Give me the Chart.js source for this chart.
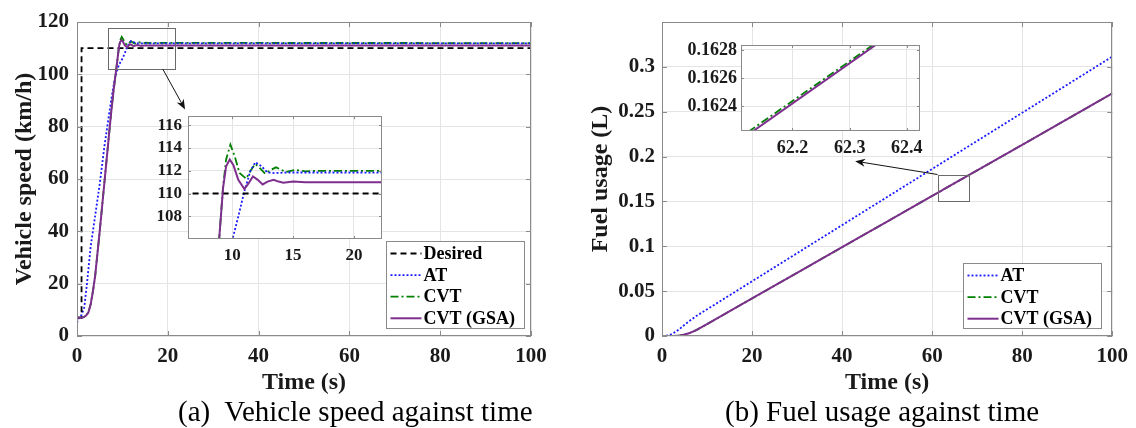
<!DOCTYPE html>
<html>
<head>
<meta charset="utf-8">
<script src="https://cdn.jsdelivr.net/npm/chart.js@4.4.0/dist/chart.umd.min.js"></script>
<style>
  body { margin: 0; background: #fff; width: 1136px; height: 428px; overflow: hidden; position: relative; }
  canvas { position: absolute; }
  .cap { position: absolute; font-family: 'Liberation Serif', 'Times New Roman', serif; font-size: 29px;
         line-height: 1; white-space: pre; color: #000; }
</style>
</head>
<body>
<canvas id="speedChart" width="560" height="400" style="left:0px;top:0px"></canvas>
<canvas id="speedZoom" width="252" height="170" style="left:140px;top:100px"></canvas>
<canvas id="fuelChart" width="566" height="400" style="left:570px;top:0px"></canvas>
<canvas id="fuelZoom" width="280" height="135" style="left:660px;top:30px"></canvas>
<div class="cap" style="left:178px;top:397px">(a)  Vehicle speed against time</div>
<div class="cap" style="left:725px;top:397px">(b) Fuel usage against time</div>

<script>
// ---- (a) vehicle speed ----
var desiredTime  = [0, 1, 1, 100];
var desiredSpeed = [7, 7, 110, 110];

var atTime  = [0, 0.4, 1, 1.6, 2.2, 3, 4, 5, 6, 7, 7.6, 8.4, 9.2, 10.1, 10.55, 11, 11.5, 11.9, 12.4, 12.9, 13.5, 14.5, 100];
var atSpeed = [5, 7, 8, 11, 20, 34, 46, 58, 72, 84, 91, 99, 103.5, 106.3, 108.2, 110.2, 112, 112.75, 112.4, 111.85, 111.8, 111.85, 111.8];

var cvtTime  = [0, 1, 1.5, 2, 2.5, 3, 3.5, 4, 5, 6, 7, 7.5, 8, 8.5, 8.93, 9.25, 9.5, 9.85, 10.2, 10.6, 11.15, 11.5, 11.9, 12.3, 12.7, 13.2, 13.6, 14, 14.4, 15.2, 16, 17, 100];
var cvtSpeed = [7, 7, 7.2, 7.8, 9, 12, 17, 23, 40, 58, 76, 85, 93, 100, 106, 110.6, 113, 114.3, 113.3, 111.8, 111.3, 112, 112.6, 112.2, 111.75, 112.1, 112.3, 112.1, 111.9, 112.08, 111.95, 112, 111.95];

var gsaTime  = [0, 1, 1.5, 2, 2.5, 3, 3.5, 4, 5, 6, 7, 7.5, 8, 8.5, 8.93, 9.25, 9.5, 9.8, 10.1, 10.5, 11, 11.35, 11.7, 12.1, 12.5, 12.9, 13.4, 13.8, 14.2, 15, 16, 100];
var gsaSpeed = [7, 7, 7.2, 7.8, 9, 12, 17, 23, 40, 58, 76, 85, 93, 100, 106, 110.5, 112.4, 113, 112.5, 111.2, 110.4, 110.9, 111.5, 111.2, 110.8, 111.05, 111.2, 111.05, 110.95, 111.05, 111, 111];

var timeTicks      = [0, 20, 40, 60, 80, 100];
var speedTicks     = [0, 20, 40, 60, 80, 100, 120];
var zoomTimeTicks  = [10, 15, 20];
var zoomSpeedTicks = [108, 110, 112, 114, 116];

// ---- (b) fuel usage ----
var fuelTime = [0, 1, 2, 3, 4, 5, 6, 7, 7.6, 8, 9, 10, 20, 30, 40, 50, 60, 62.1, 62.43, 70, 80, 90, 100];
var fuelAT   = [0, 0.0004, 0.0018, 0.0045, 0.0082, 0.0125, 0.0165, 0.0200, 0.0222, 0.0235, 0.0266, 0.0297,
                0.0610, 0.0923, 0.1236, 0.1549, 0.1862, 0.1928, 0.1938, 0.2175, 0.2488, 0.2801, 0.3114];
var fuelCVT  = [0, 0, 0.0001, 0.0002, 0.0006, 0.0016, 0.0031, 0.0051, 0.0066, 0.0077, 0.0104, 0.01325,
                0.04183, 0.07041, 0.09899, 0.12757, 0.15615, 0.162154, 0.163088, 0.18459, 0.21317, 0.24175, 0.27033];
var fuelGSA  = [0, 0, 0.0001, 0.0002, 0.0006, 0.0016, 0.0031, 0.0051, 0.0066, 0.0077, 0.0104, 0.01323,
                0.04181, 0.07039, 0.09897, 0.12755, 0.15613, 0.162134, 0.163077, 0.18457, 0.21315, 0.24173, 0.27031];

var fuelTicks         = [0, 0.05, 0.1, 0.15, 0.2, 0.25, 0.3];
var zoomFuelTimeTicks = [62.2, 62.3, 62.4];
var zoomFuelTicks     = [0.1624, 0.1626, 0.1628];

var FONT = "'Liberation Serif', 'Times New Roman', serif";
var AXIS = '#8a8a8a';
var GRID = '#e4e4e4';
var TEXT = '#1a1a1a';

function pts(xs, ys) {
  return xs.map(function (x, i) { return {x: x, y: ys[i]}; });
}

function line(label, xs, ys, color, dash, width, order) {
  return {
    label: label, data: pts(xs, ys), borderColor: color, borderDash: dash, borderWidth: width,
    order: order, pointRadius: 0, tension: 0, fill: false
  };
}

function speedSets() {
  return [
    line('Desired', desiredTime, desiredSpeed, '#000000', [6, 4], 1.8, 1),
    line('AT', atTime, atSpeed, '#1a1aff', [2, 2], 1.8, 1),
    line('CVT', cvtTime, cvtSpeed, '#008000', [8, 3, 2, 3], 1.8, 1),
    line('CVT (GSA)', gsaTime, gsaSpeed, '#7e2f8e', [], 2, 0)
  ];
}

function fuelSets() {
  return [
    line('AT', fuelTime, fuelAT, '#1a1aff', [2, 2], 1.8, 1),
    line('CVT', fuelTime, fuelCVT, '#008000', [8, 3, 2, 3], 1.8, 1),
    line('CVT (GSA)', fuelTime, fuelGSA, '#7e2f8e', [], 2, 0)
  ];
}

function makeScale(o) {
  return {
    type: 'linear',
    position: o.isX ? 'bottom' : 'left',
    min: o.min, max: o.max,
    afterBuildTicks: function (s) { s.ticks = o.ticks.map(function (v) { return {value: v}; }); },
    afterFit: function (s) { if (o.isX) s.height = o.size; else s.width = o.size; },
    grid: {color: GRID, lineWidth: 1, drawTicks: false},
    border: {display: false},
    ticks: {
      padding: o.pad, autoSkip: false, maxRotation: 0, minRotation: 0, color: TEXT,
      font: {family: FONT, size: o.font, weight: 'bold'},
      callback: function (v) { return String(v); }
    },
    title: o.title ? {
      display: true, text: o.title, color: TEXT,
      font: {family: FONT, size: 24, weight: 'bold', lineHeight: 1.2},
      padding: o.titlePad
    } : {display: false}
  };
}

// axes box, inner tick marks, optional white fill for insets
var framePlugin = {
  id: 'frame',
  beforeDraw: function (chart, args, o) {
    if (!o.fill) return;
    var a = chart.chartArea, ctx = chart.ctx;
    ctx.save();
    ctx.fillStyle = '#ffffff';
    ctx.fillRect(a.left, a.top, a.right - a.left, a.bottom - a.top);
    ctx.restore();
  },
  afterDatasetsDraw: function (chart, args, o) {
    var a = chart.chartArea, ctx = chart.ctx, sx = chart.scales.x, sy = chart.scales.y;
    var L = o.tick || 5;
    ctx.save();
    ctx.strokeStyle = AXIS;
    ctx.lineWidth = 1;
    ctx.beginPath();
    sx.ticks.forEach(function (t) {
      var p = Math.round(sx.getPixelForValue(t.value)) + 0.5;
      ctx.moveTo(p, a.bottom); ctx.lineTo(p, a.bottom - L);
      ctx.moveTo(p, a.top); ctx.lineTo(p, a.top + L);
    });
    sy.ticks.forEach(function (t) {
      var p = Math.round(sy.getPixelForValue(t.value)) + 0.5;
      ctx.moveTo(a.left, p); ctx.lineTo(a.left + L, p);
      ctx.moveTo(a.right, p); ctx.lineTo(a.right - L, p);
    });
    ctx.stroke();
    ctx.strokeRect(Math.round(a.left) + 0.5, Math.round(a.top) + 0.5,
                   Math.round(a.right - a.left) - 1, Math.round(a.bottom - a.top) - 1);
    ctx.restore();
  }
};

// zoom rectangle, arrow and MATLAB-style legend
var extrasPlugin = {
  id: 'extras',
  afterDatasetsDraw: function (chart, args, o) {
    var ctx = chart.ctx, sx = chart.scales.x, sy = chart.scales.y, a = chart.chartArea;
    ctx.save();
    if (o.zoomBox) {
      var b = o.zoomBox;
      var x0 = Math.round(sx.getPixelForValue(b.x[0])) + 0.5, x1 = Math.round(sx.getPixelForValue(b.x[1])) + 0.5;
      var y0 = Math.round(sy.getPixelForValue(b.y[0])) + 0.5, y1 = Math.round(sy.getPixelForValue(b.y[1])) + 0.5;
      ctx.strokeStyle = '#6a6a6a';
      ctx.lineWidth = 1;
      ctx.setLineDash([]);
      ctx.strokeRect(x0, y1, x1 - x0, y0 - y1);
    }
    if (o.arrow) {
      var px0 = sx.getPixelForValue(o.arrow.from[0]), py0 = sy.getPixelForValue(o.arrow.from[1]);
      var px1 = sx.getPixelForValue(o.arrow.to[0]), py1 = sy.getPixelForValue(o.arrow.to[1]);
      var ang = Math.atan2(py1 - py0, px1 - px0);
      ctx.strokeStyle = '#111';
      ctx.fillStyle = '#111';
      ctx.lineWidth = 1;
      ctx.beginPath();
      ctx.moveTo(px0, py0);
      ctx.lineTo(px1 - 6 * Math.cos(ang), py1 - 6 * Math.sin(ang));
      ctx.stroke();
      ctx.beginPath();
      ctx.moveTo(px1, py1);
      ctx.lineTo(px1 - 10 * Math.cos(ang) + 4 * Math.sin(ang), py1 - 10 * Math.sin(ang) - 4 * Math.cos(ang));
      ctx.lineTo(px1 - 7 * Math.cos(ang), py1 - 7 * Math.sin(ang));
      ctx.lineTo(px1 - 10 * Math.cos(ang) - 4 * Math.sin(ang), py1 - 10 * Math.sin(ang) + 4 * Math.cos(ang));
      ctx.closePath();
      ctx.fill();
    }
    if (o.legend) {
      var sets = chart.data.datasets;
      ctx.font = 'bold 18px ' + FONT;
      var tw = 0;
      sets.forEach(function (d) { tw = Math.max(tw, ctx.measureText(d.label).width); });
      var rowH = 21.6;
      var w = 4 + 31 + 2 + tw + 9;
      var h = 12 + (sets.length - 1) * rowH + 10;
      var right = a.right - o.legend.right, bottom = a.bottom - o.legend.bottom;
      var lx = Math.round(right - w) + 0.5, ly = Math.round(bottom - h) + 0.5;
      ctx.fillStyle = '#ffffff';
      ctx.fillRect(lx, ly, w, h);
      ctx.strokeStyle = '#8a8a8a';
      ctx.lineWidth = 1;
      ctx.setLineDash([]);
      ctx.strokeRect(lx, ly, Math.round(w), Math.round(h));
      sets.forEach(function (d, i) {
        var cy = ly + 12 + i * rowH;
        ctx.strokeStyle = d.borderColor;
        ctx.lineWidth = d.borderWidth;
        ctx.setLineDash(d.borderDash || []);
        ctx.beginPath();
        ctx.moveTo(lx + 4, cy);
        ctx.lineTo(lx + 35, cy);
        ctx.stroke();
        ctx.setLineDash([]);
        ctx.fillStyle = '#000';
        ctx.textAlign = 'left';
        ctx.textBaseline = 'middle';
        ctx.fillText(d.label, lx + 37, cy + 1);
      });
    }
    ctx.restore();
  }
};

function baseOptions(padding, scales, plugins) {
  return {
    responsive: false, animation: false, devicePixelRatio: 1,
    layout: {padding: padding},
    scales: scales,
    plugins: Object.assign({legend: {display: false}, tooltip: {enabled: false}}, plugins),
    events: []
  };
}

// (a) main
new Chart(document.getElementById('speedChart'), {
  type: 'line',
  data: {datasets: speedSets()},
  options: baseOptions({top: 22, right: 29, left: 0, bottom: 0}, {
    x: makeScale({isX: true, min: 0, max: 100, ticks: timeTicks, size: 64, pad: 8, font: 21,
                  title: 'Time (s)', titlePad: {top: 0, bottom: 3}}),
    y: makeScale({isX: false, min: 0, max: 120, ticks: speedTicks, size: 77, pad: 8, font: 21,
                  title: 'Vehicle speed (km/h)', titlePad: {top: 10, bottom: 0}})
  }, {
    frame: {tick: 5},
    extras: {
      zoomBox: {x: [6.9, 21.6], y: [102, 117.8]},
      arrow: {from: [18.9, 102], to: [23.8, 86.6]},
      legend: {right: 7, bottom: 8}
    }
  }),
  plugins: [framePlugin, extrasPlugin]
});

// (a) inset
new Chart(document.getElementById('speedZoom'), {
  type: 'line',
  data: {datasets: speedSets()},
  options: baseOptions({top: 16, right: 10, left: 0, bottom: 0}, {
    x: makeScale({isX: true, min: 6.37, max: 22.3, ticks: zoomTimeTicks, size: 31, pad: 6, font: 17}),
    y: makeScale({isX: false, min: 106, max: 116.8, ticks: zoomSpeedTicks, size: 48, pad: 6, font: 17})
  }, {
    frame: {tick: 3, fill: true}
  }),
  plugins: [framePlugin]
});

// (b) main
new Chart(document.getElementById('fuelChart'), {
  type: 'line',
  data: {datasets: fuelSets()},
  options: baseOptions({top: 22, right: 22, left: 0, bottom: 0}, {
    x: makeScale({isX: true, min: 0, max: 100, ticks: timeTicks, size: 64, pad: 8, font: 21,
                  title: 'Time (s)', titlePad: {top: 0, bottom: 3}}),
    y: makeScale({isX: false, min: 0, max: 0.35, ticks: fuelTicks, size: 92, pad: 7, font: 21,
                  title: 'Fuel usage (L)', titlePad: {top: 16, bottom: 0}})
  }, {
    frame: {tick: 5},
    extras: {
      zoomBox: {x: [61.2, 68.2], y: [0.15, 0.18]},
      arrow: {from: [61.2, 0.18], to: [42.9, 0.1949]},
      legend: {right: 12, bottom: 8}
    }
  }),
  plugins: [framePlugin, extrasPlugin]
});

// (b) inset
new Chart(document.getElementById('fuelZoom'), {
  type: 'line',
  data: {datasets: fuelSets()},
  options: baseOptions({top: 15, right: 20, left: 0, bottom: 0}, {
    x: makeScale({isX: true, min: 62.11, max: 62.423, ticks: zoomFuelTimeTicks, size: 34, pad: 7, font: 18}),
    y: makeScale({isX: false, min: 0.162224, max: 0.162835, ticks: zoomFuelTicks, size: 81, pad: 4, font: 18})
  }, {
    frame: {tick: 3, fill: true}
  }),
  plugins: [framePlugin]
});
</script>
</body>
</html>
